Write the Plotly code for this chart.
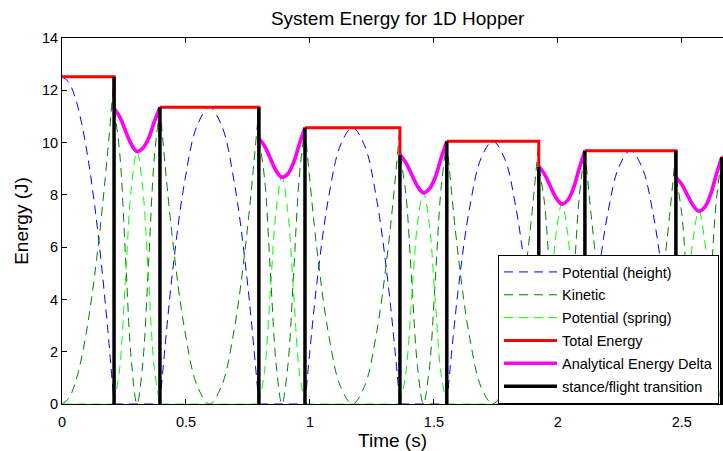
import numpy as np
import plotly.graph_objects as go

# ---- Hopper energy data (J) ------------------------------------------------
# Stance phases run from touchdown to liftoff (s)
TOUCHDOWN = [0.21, 0.794, 1.363, 1.923, 2.476]
LIFTOFF = [0.395, 0.98, 1.552, 2.109, 2.661]

# Flight phases and their (constant) total energy
FLIGHT_START = [0.0, 0.395, 0.98, 1.552, 2.109, 2.661]
FLIGHT_END = [0.21, 0.794, 1.363, 1.923, 2.476, 3.02]
FLIGHT_ENERGY = [12.52, 11.35, 10.57, 10.05, 9.69, 9.44]

# Samples spread evenly over each flight phase
HEIGHT_PE_FLIGHT = [
    [12.52, 12.32, 11.74, 10.76, 9.39, 7.63, 5.48, 2.93, 0.0],
    [0.0, 4.97, 8.51, 10.64, 11.35, 10.64, 8.51, 4.97, 0.0],
    [0.0, 4.62, 7.93, 9.91, 10.57, 9.91, 7.93, 4.62, 0.0],
    [0.0, 4.40, 7.54, 9.42, 10.05, 9.42, 7.54, 4.40, 0.0],
    [0.0, 4.24, 7.27, 9.08, 9.69, 9.08, 7.27, 4.24, 0.0],
    [0.0, 4.13, 7.08, 8.85, 9.44, 8.85, 7.08, 4.13, 0.0],
]
KINETIC_FLIGHT = [
    [0.0, 0.20, 0.78, 1.76, 3.13, 4.89, 7.04, 9.59, 12.52],
    [11.35, 6.38, 2.84, 0.71, 0.0, 0.71, 2.84, 6.38, 11.35],
    [10.57, 5.95, 2.64, 0.66, 0.0, 0.66, 2.64, 5.95, 10.57],
    [10.05, 5.65, 2.51, 0.63, 0.0, 0.63, 2.51, 5.65, 10.05],
    [9.69, 5.45, 2.42, 0.61, 0.0, 0.61, 2.42, 5.45, 9.69],
    [9.44, 5.31, 2.36, 0.59, 0.0, 0.59, 2.36, 5.31, 9.44],
]

# Samples spread evenly over each stance phase
KINETIC_STANCE = [
    [11.31, 9.57, 5.62, 1.69, 0.0, 1.53, 5.32, 9.37, 11.35],
    [10.16, 8.59, 5.05, 1.52, 0.0, 1.40, 4.88, 8.65, 10.57],
    [9.53, 8.06, 4.74, 1.43, 0.0, 1.32, 4.61, 8.20, 10.05],
    [9.08, 7.67, 4.51, 1.36, 0.0, 1.26, 4.41, 7.88, 9.69],
    [8.67, 7.33, 4.31, 1.30, 0.0, 1.22, 4.29, 7.66, 9.44],
]
SPRING_STANCE = [
    [0.0, 1.41, 4.83, 8.25, 9.66, 8.25, 4.83, 1.41, 0.0],
    [0.0, 1.27, 4.34, 7.40, 8.67, 7.40, 4.34, 1.27, 0.0],
    [0.0, 1.18, 4.04, 6.90, 8.08, 6.90, 4.04, 1.18, 0.0],
    [0.0, 1.12, 3.83, 6.53, 7.65, 6.53, 3.83, 1.12, 0.0],
    [0.0, 1.08, 3.69, 6.30, 7.38, 6.30, 3.69, 1.08, 0.0],
]
DELTA_STANCE = [
    [11.31, 10.98, 10.45, 9.94, 9.66, 9.78, 10.15, 10.78, 11.35],
    [10.16, 9.86, 9.39, 8.92, 8.67, 8.80, 9.22, 9.92, 10.57],
    [9.53, 9.24, 8.78, 8.33, 8.08, 8.22, 8.65, 9.38, 10.05],
    [9.08, 8.79, 8.34, 7.89, 7.65, 7.79, 8.24, 9.00, 9.69],
    [8.67, 8.41, 8.00, 7.60, 7.38, 7.52, 7.98, 8.74, 9.44],
]

# Stance/flight switches and the height each marker is drawn up to
TRANSITION_TIME = [0.21, 0.395, 0.794, 0.98, 1.363, 1.552, 1.923, 2.109, 2.476, 2.661]
TRANSITION_TOP = [12.52, 11.35, 11.35, 10.57, 9.53, 10.05, 9.08, 9.69, 9.69, 9.44]

X_TICKS = [0, 0.5, 1, 1.5, 2, 2.5]
X_TICK_TEXT = ["0", "0.5", "1", "1.5", "2", "2.5"]
Y_TICKS = [0, 2, 4, 6, 8, 10, 12, 14]


def phase_segments(starts, ends, values):
    """Lay each phase's samples evenly between its start and end, gap-separated."""
    xs, ys = [], []
    for a, b, v in zip(starts, ends, values):
        xs += list(np.linspace(a, b, len(v))) + [None]
        ys += list(v) + [None]
    return xs, ys


FONT = "Liberation Sans, Arial, Helvetica, sans-serif"
DASH = "9px,6px"

zeros_stance = [[0.0, 0.0]] * len(TOUCHDOWN)
zeros_flight = [[0.0, 0.0]] * len(FLIGHT_START)

h_x1, h_y1 = phase_segments(FLIGHT_START, FLIGHT_END, HEIGHT_PE_FLIGHT)
h_x2, h_y2 = phase_segments(TOUCHDOWN, LIFTOFF, zeros_stance)
k_x1, k_y1 = phase_segments(FLIGHT_START, FLIGHT_END, KINETIC_FLIGHT)
k_x2, k_y2 = phase_segments(TOUCHDOWN, LIFTOFF, KINETIC_STANCE)
s_x1, s_y1 = phase_segments(TOUCHDOWN, LIFTOFF, SPRING_STANCE)
s_x2, s_y2 = phase_segments(FLIGHT_START, FLIGHT_END, zeros_flight)
d_x, d_y = phase_segments(TOUCHDOWN, LIFTOFF, DELTA_STANCE)

# Total energy: flat during flight, dropping at touchdown to the stance value
tot_x, tot_y = [], []
for i, (a, b, e) in enumerate(zip(FLIGHT_START, FLIGHT_END, FLIGHT_ENERGY)):
    tot_x += [a, b]
    tot_y += [e, e]
    if i < len(DELTA_STANCE):
        tot_x += [b]
        tot_y += [DELTA_STANCE[i][0]]
    tot_x += [None]
    tot_y += [None]

tr_x, tr_y = [], []
for t, top in zip(TRANSITION_TIME, TRANSITION_TOP):
    tr_x += [t, t, None]
    tr_y += [0, top, None]

fig = go.Figure()
fig.add_trace(go.Scatter(x=h_x1 + h_x2, y=h_y1 + h_y2, mode="lines",
                         name="Potential (height)", line_shape="spline",
                         legendgroup="g1",
                         line=dict(color="#0000ff", width=1, dash=DASH)))
fig.add_trace(go.Scatter(x=k_x1 + k_x2, y=k_y1 + k_y2, mode="lines",
                         name="Kinetic", line_shape="spline", legendgroup="g2",
                         line=dict(color="#008000", width=1, dash=DASH)))
fig.add_trace(go.Scatter(x=s_x1 + s_x2, y=s_y1 + s_y2, mode="lines",
                         name="Potential (spring)", line_shape="spline",
                         legendgroup="g3",
                         line=dict(color="#00ff00", width=1, dash=DASH)))
fig.add_trace(go.Scatter(x=tot_x, y=tot_y, mode="lines", name="Total Energy",
                         legendgroup="g4",
                         line=dict(color="#ff0000", width=3)))
fig.add_trace(go.Scatter(x=d_x, y=d_y, mode="lines", name="Total Energy",
                         showlegend=False, line_shape="spline", legendgroup="g4",
                         line=dict(color="#ff0000", width=3)))
fig.add_trace(go.Scatter(x=d_x, y=d_y, mode="lines",
                         name="Analytical Energy Delta", line_shape="spline",
                         legendgroup="g5",
                         line=dict(color="#ff00ff", width=3.5)))
fig.add_trace(go.Scatter(x=tr_x, y=tr_y, mode="lines",
                         name="stance/flight transition", legendgroup="g6",
                         line=dict(color="#000000", width=3.5)))

fig.update_layout(
    width=723, height=451,
    margin=dict(l=62, r=0, t=38, b=47, autoexpand=False),
    paper_bgcolor="white", plot_bgcolor="white",
    font=dict(family=FONT, size=14.5, color="#000000"),
    title=dict(text="System Energy for 1D Hopper", font=dict(size=19),
               x=0.55, xanchor="center", xref="container",
               y=1 - 18 / 451, yanchor="middle", yref="container"),
    xaxis=dict(range=[0, 2.666], tickvals=X_TICKS, ticktext=X_TICK_TEXT,
               ticks="inside", ticklen=5, tickcolor="#000000",
               showline=True, linecolor="#000000", linewidth=1,
               mirror="ticks", showgrid=False, zeroline=False,
               tickfont=dict(size=14.5), ticklabelstandoff=5,
               title=dict(text="Time (s)", font=dict(size=19), standoff=2)),
    yaxis=dict(range=[0, 14], tickvals=Y_TICKS,
               ticks="inside", ticklen=5, tickcolor="#000000",
               showline=True, linecolor="#000000", linewidth=1,
               showgrid=False, zeroline=False, tickfont=dict(size=14.5),
               title=dict(text="Energy (J)", font=dict(size=19), standoff=8)),
    legend=dict(x=(498 - 62) / 661, xanchor="left", y=0, yanchor="bottom",
                bgcolor="white", bordercolor="#000000", borderwidth=1,
                font=dict(size=14.5), itemwidth=53, tracegroupgap=1),
    showlegend=True,
)

fig.write_html("out.html")
